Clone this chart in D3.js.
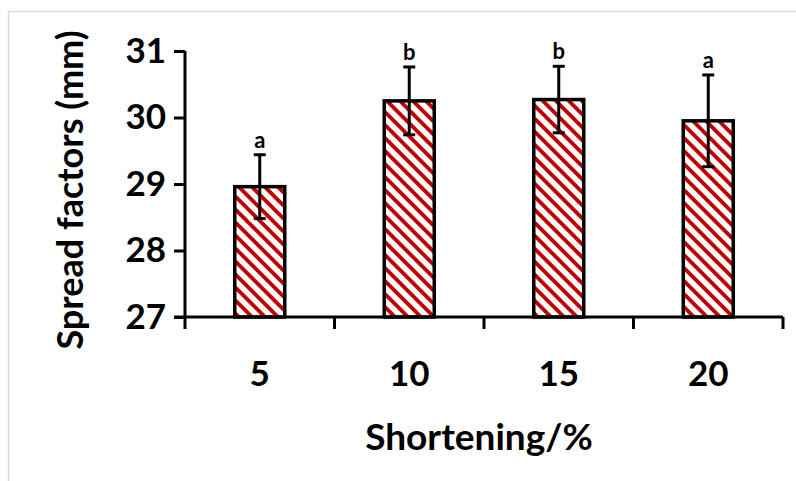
<!DOCTYPE html>
<html><head><meta charset="utf-8">
<script src="https://cdn.jsdelivr.net/npm/d3@7"></script>
<style>body{margin:0;background:#fff}svg{display:block}</style>
</head><body>
<script>
const categories = ["5", "10", "15", "20"];
const values = [28.96, 30.25, 30.27, 29.95];
const errors = [0.48, 0.51, 0.50, 0.69];
const letters = ["a", "b", "b", "a"];
const yTicks = [27, 28, 29, 30, 31];
const xTitle = "Shortening/%";
const yTitle = "Spread factors (mm)";

const W = 796, H = 481;
const svg = d3.select("body").append("svg").attr("width", W).attr("height", H);
const font = "Lato, 'Open Sans', sans-serif";

// frame
svg.append("path").attr("d", `M8.5,${H}V11.5H${W}`).attr("fill", "none")
  .attr("stroke", "#d9d9d9").attr("stroke-width", 1.5);

const defs = svg.append("defs");
const p = defs.append("pattern").attr("id", "hatch").attr("patternUnits", "userSpaceOnUse")
  .attr("width", 13).attr("height", 13);
p.append("rect").attr("width", 13).attr("height", 13).attr("fill", "#fff");
p.append("path").attr("d", "M-4,-4L17,17M-4,9L4,17M9,-4L17,4")
  .attr("stroke", "#c00000").attr("stroke-width", 3.8);

const x0 = 185, x1 = 783, yTop = 51, yBot = 317;
const x = d3.scaleBand().domain(categories).range([x0, x1]).paddingInner(0).paddingOuter(0);
const y = d3.scaleLinear().domain([27, 31]).range([yBot, yTop]);
const barW = 50;

// bars
svg.selectAll("rect.bar").data(categories).join("rect").attr("class", "bar")
  .attr("x", d => x(d) + x.bandwidth() / 2 - barW / 2)
  .attr("y", (d, i) => y(values[i]))
  .attr("width", barW)
  .attr("height", (d, i) => y(27) - y(values[i]))
  .attr("fill", "url(#hatch)").attr("stroke", "#000").attr("stroke-width", 3.5);

// error bars
const eg = svg.append("g").attr("stroke", "#000").attr("stroke-width", 3);
categories.forEach((c, i) => {
  const cx = x(c) + x.bandwidth() / 2;
  const t = y(values[i] + errors[i]), b = y(values[i] - errors[i]);
  eg.append("line").attr("x1", cx).attr("x2", cx).attr("y1", t).attr("y2", b);
  eg.append("line").attr("x1", cx - 6).attr("x2", cx + 6).attr("y1", t).attr("y2", t);
  eg.append("line").attr("x1", cx - 6).attr("x2", cx + 6).attr("y1", b).attr("y2", b);
  svg.append("text").attr("x", cx).attr("y", t - 7).attr("text-anchor", "middle")
    .attr("font-family", font).attr("font-weight", "bold").attr("font-size", 22)
    .text(letters[i]);
});

// y axis
const ya = svg.append("g").attr("transform", `translate(${x0},0)`)
  .call(d3.axisLeft(y).tickValues(yTicks).tickSize(11).tickPadding(8).tickFormat(d3.format("d")));
ya.select(".domain").attr("stroke-width", 3).attr("d", `M0,${yTop}V${yBot}`);
ya.selectAll(".tick line").attr("stroke-width", 3);
ya.selectAll(".tick text").attr("font-family", font).attr("font-weight", "bold").attr("font-size", 35).attr("fill", "#000");

// x axis
const xa = svg.append("g").attr("transform", `translate(0,${yBot})`);
xa.append("line").attr("x1", x0 - 11).attr("x2", x1).attr("y1", 0).attr("y2", 0)
  .attr("stroke", "#000").attr("stroke-width", 3);
const bounds = categories.map(c => x(c)).concat([x(categories[categories.length - 1]) + x.bandwidth()]);
xa.selectAll("line.tk").data(bounds).join("line").attr("class", "tk")
  .attr("x1", d => d).attr("x2", d => d).attr("y1", 0).attr("y2", 12)
  .attr("stroke", "#000").attr("stroke-width", 3);
xa.selectAll("text").data(categories).join("text")
  .attr("x", d => x(d) + x.bandwidth() / 2).attr("y", 69).attr("text-anchor", "middle")
  .attr("font-family", font).attr("font-weight", "bold").attr("font-size", 35).text(d => d);

// titles
svg.append("text").attr("x", 479).attr("y", 450).attr("text-anchor", "middle")
  .attr("font-family", font).attr("font-weight", "bold").attr("font-size", 37).text(xTitle);
svg.append("text").attr("transform", "translate(83,190) rotate(-90)").attr("text-anchor", "middle")
  .attr("font-family", font).attr("font-weight", "bold").attr("font-size", 36).text(yTitle);
</script>
</body></html>
